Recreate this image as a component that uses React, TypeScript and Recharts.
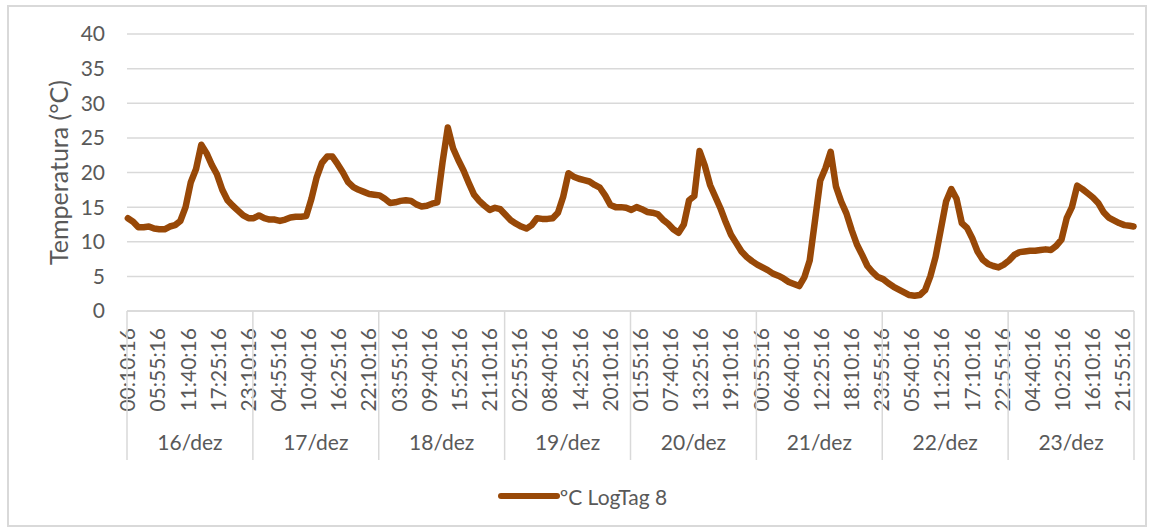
import { LineChart, Line, XAxis, YAxis, CartesianGrid, Legend } from 'recharts';

const FONT = 'Lato, "Liberation Sans", sans-serif';
const TEXT = '#595959';
const GRID = '#d9d9d9';
const LINE = '#984807';

// dias do registo
const days = ['16/dez', '17/dez', '18/dez', '19/dez', '20/dez', '21/dez', '22/dez', '23/dez'];

// leituras horárias (hh:10:16), ºC
const d16 = [13.4, 12.9, 12.1, 12.1, 12.2, 11.9, 11.8, 11.8, 12.2, 12.4, 13.0, 15.0, 18.6, 20.5, 24.0, 22.8, 21.1, 19.7, 17.5, 16.0, 15.2, 14.5, 13.8, 13.4];
const d17 = [13.4, 13.8, 13.4, 13.2, 13.2, 13.0, 13.2, 13.5, 13.6, 13.6, 13.7, 16.2, 19.3, 21.4, 22.3, 22.3, 21.2, 20.0, 18.6, 17.9, 17.5, 17.2, 16.9, 16.8];
const d18 = [16.7, 16.2, 15.6, 15.7, 15.9, 16.0, 15.9, 15.4, 15.1, 15.2, 15.5, 15.7, 21.5, 26.5, 23.5, 21.8, 20.3, 18.5, 16.8, 15.9, 15.2, 14.6, 14.9, 14.7];
const d19 = [13.9, 13.1, 12.6, 12.2, 11.9, 12.4, 13.4, 13.3, 13.3, 13.4, 14.2, 16.5, 19.9, 19.4, 19.1, 18.9, 18.7, 18.2, 17.8, 16.7, 15.3, 15.0, 15.0, 14.9];
const d20 = [14.6, 15.0, 14.7, 14.3, 14.2, 14.0, 13.2, 12.6, 11.8, 11.3, 12.5, 16.0, 16.6, 23.1, 21.0, 18.2, 16.5, 14.8, 12.8, 11.0, 9.8, 8.6, 7.8, 7.2];
const d21 = [6.7, 6.3, 5.9, 5.4, 5.1, 4.7, 4.2, 3.9, 3.6, 4.9, 7.3, 13.0, 18.8, 20.6, 23.0, 18.0, 15.8, 14.1, 11.7, 9.6, 8.1, 6.5, 5.6, 4.9];
const d22 = [4.6, 4.0, 3.5, 3.1, 2.7, 2.3, 2.2, 2.3, 3.0, 5.0, 7.8, 11.8, 15.8, 17.6, 16.2, 12.7, 12.0, 10.5, 8.6, 7.4, 6.8, 6.5, 6.3, 6.7];
const d23 = [7.3, 8.1, 8.5, 8.6, 8.7, 8.7, 8.8, 8.9, 8.8, 9.4, 10.3, 13.4, 15.0, 18.1, 17.6, 17.0, 16.4, 15.6, 14.3, 13.5, 13.1, 12.7, 12.4, 12.3];
const lastReading = { day: 7, hour: 23, minute: 55, temp: 12.2 };

// rótulos do eixo (um a cada 69 leituras de 5 min)
const timeLabels = [
  '00:10:16', '05:55:16', '11:40:16', '17:25:16', '23:10:16',
  '04:55:16', '10:40:16', '16:25:16', '22:10:16',
  '03:55:16', '09:40:16', '15:25:16', '21:10:16',
  '02:55:16', '08:40:16', '14:25:16', '20:10:16',
  '01:55:16', '07:40:16', '13:25:16', '19:10:16',
  '00:55:16', '06:40:16', '12:25:16', '18:10:16', '23:55:16',
  '05:40:16', '11:25:16', '17:10:16', '22:55:16',
  '04:40:16', '10:25:16', '16:10:16', '21:55:16',
];

const yTicks = [0, 5, 10, 15, 20, 25, 30, 35, 40];

const DAY_MIN = 1440;
const dayTemps = [d16, d17, d18, d19, d20, d21, d22, d23];
const readings = [
  ...dayTemps.flatMap((vals, di) => vals.map((v, h) => ({ t: di * DAY_MIN + h * 60 + 10, temp: v }))),
  { t: lastReading.day * DAY_MIN + lastReading.hour * 60 + lastReading.minute, temp: lastReading.temp },
];
const xDomain = [0, days.length * DAY_MIN];
const timeTicks = timeLabels.map((_, i) => 10 + i * 345);
const dayTicks: number[] = [];
days.forEach((_, i) => dayTicks.push(i * DAY_MIN, i * DAY_MIN + DAY_MIN / 2));
dayTicks.push(days.length * DAY_MIN);

const TimeTick = (props: any) => {
  const { x, y, payload } = props;
  const label = timeLabels[timeTicks.indexOf(payload.value)];
  const ty = y + 17;
  return (
    <text x={x} y={ty} dy="0.35em" textAnchor="end" transform={`rotate(-90 ${x} ${ty})`}
      fill={TEXT} fontSize={21} fontFamily={FONT}>
      {label}
    </text>
  );
};

const DayTick = (props: any) => {
  const { x, y, payload } = props;
  const v = payload.value as number;
  if (v % DAY_MIN === 0) {
    return <line x1={x} y1={y - 110} x2={x} y2={y + 39} stroke={GRID} strokeWidth={1.5} />;
  }
  return (
    <text x={x} y={y + 22} dy="0.35em" textAnchor="middle" fill={TEXT} fontSize={21} fontFamily={FONT}>
      {days[Math.floor(v / DAY_MIN)]}
    </text>
  );
};

const LegendContent = () => (
  <div style={{ display: 'flex', justifyContent: 'center', alignItems: 'center', height: 50, paddingLeft: 22 }}>
    <svg width={62} height={10}>
      <line x1={3} y1={5} x2={59} y2={5} stroke={LINE} strokeWidth={6} strokeLinecap="round" />
    </svg>
    <span style={{ fontSize: 21, color: TEXT, fontFamily: FONT }}>ºC LogTag 8</span>
  </div>
);

export default function App() {
  return (
    <div style={{ position: 'absolute', left: 7, top: 5, width: 1136, height: 518, border: `2px solid ${GRID}`, background: '#fff' }}>
      <LineChart width={1136} height={518} data={readings} margin={{ top: 27, right: 11, bottom: 4, left: 0 }}>
        <CartesianGrid vertical={false} stroke={GRID} strokeWidth={1.5} />
        <XAxis dataKey="t" type="number" domain={xDomain} ticks={timeTicks} interval={0}
          tick={(p: any) => <TimeTick {...p} />} tickLine={false} tickSize={0} tickMargin={0}
          axisLine={{ stroke: GRID, strokeWidth: 1.5 }} height={110} />
        <XAxis xAxisId="day" dataKey="t" type="number" domain={xDomain} ticks={dayTicks} interval={0}
          tick={(p: any) => <DayTick {...p} />} tickLine={false} tickSize={0} tickMargin={0}
          axisLine={false} height={50} />
        <YAxis domain={[0, 40]} ticks={yTicks} width={118} axisLine={false} tickLine={false}
          tickSize={0} tickMargin={22} tick={{ fill: TEXT, fontSize: 21, fontFamily: FONT }}
          label={{ value: 'Temperatura (°C)', angle: -90, position: 'insideLeft', offset: 50,
            style: { textAnchor: 'middle', fill: TEXT, fontSize: 25, fontFamily: FONT } }} />
        <Line type="linear" dataKey="temp" name="ºC LogTag 8" stroke={LINE} strokeWidth={6.5}
          strokeLinejoin="round" strokeLinecap="round" dot={false} isAnimationActive={false} />
        <Legend verticalAlign="bottom" height={50} content={LegendContent} />
      </LineChart>
    </div>
  );
}
